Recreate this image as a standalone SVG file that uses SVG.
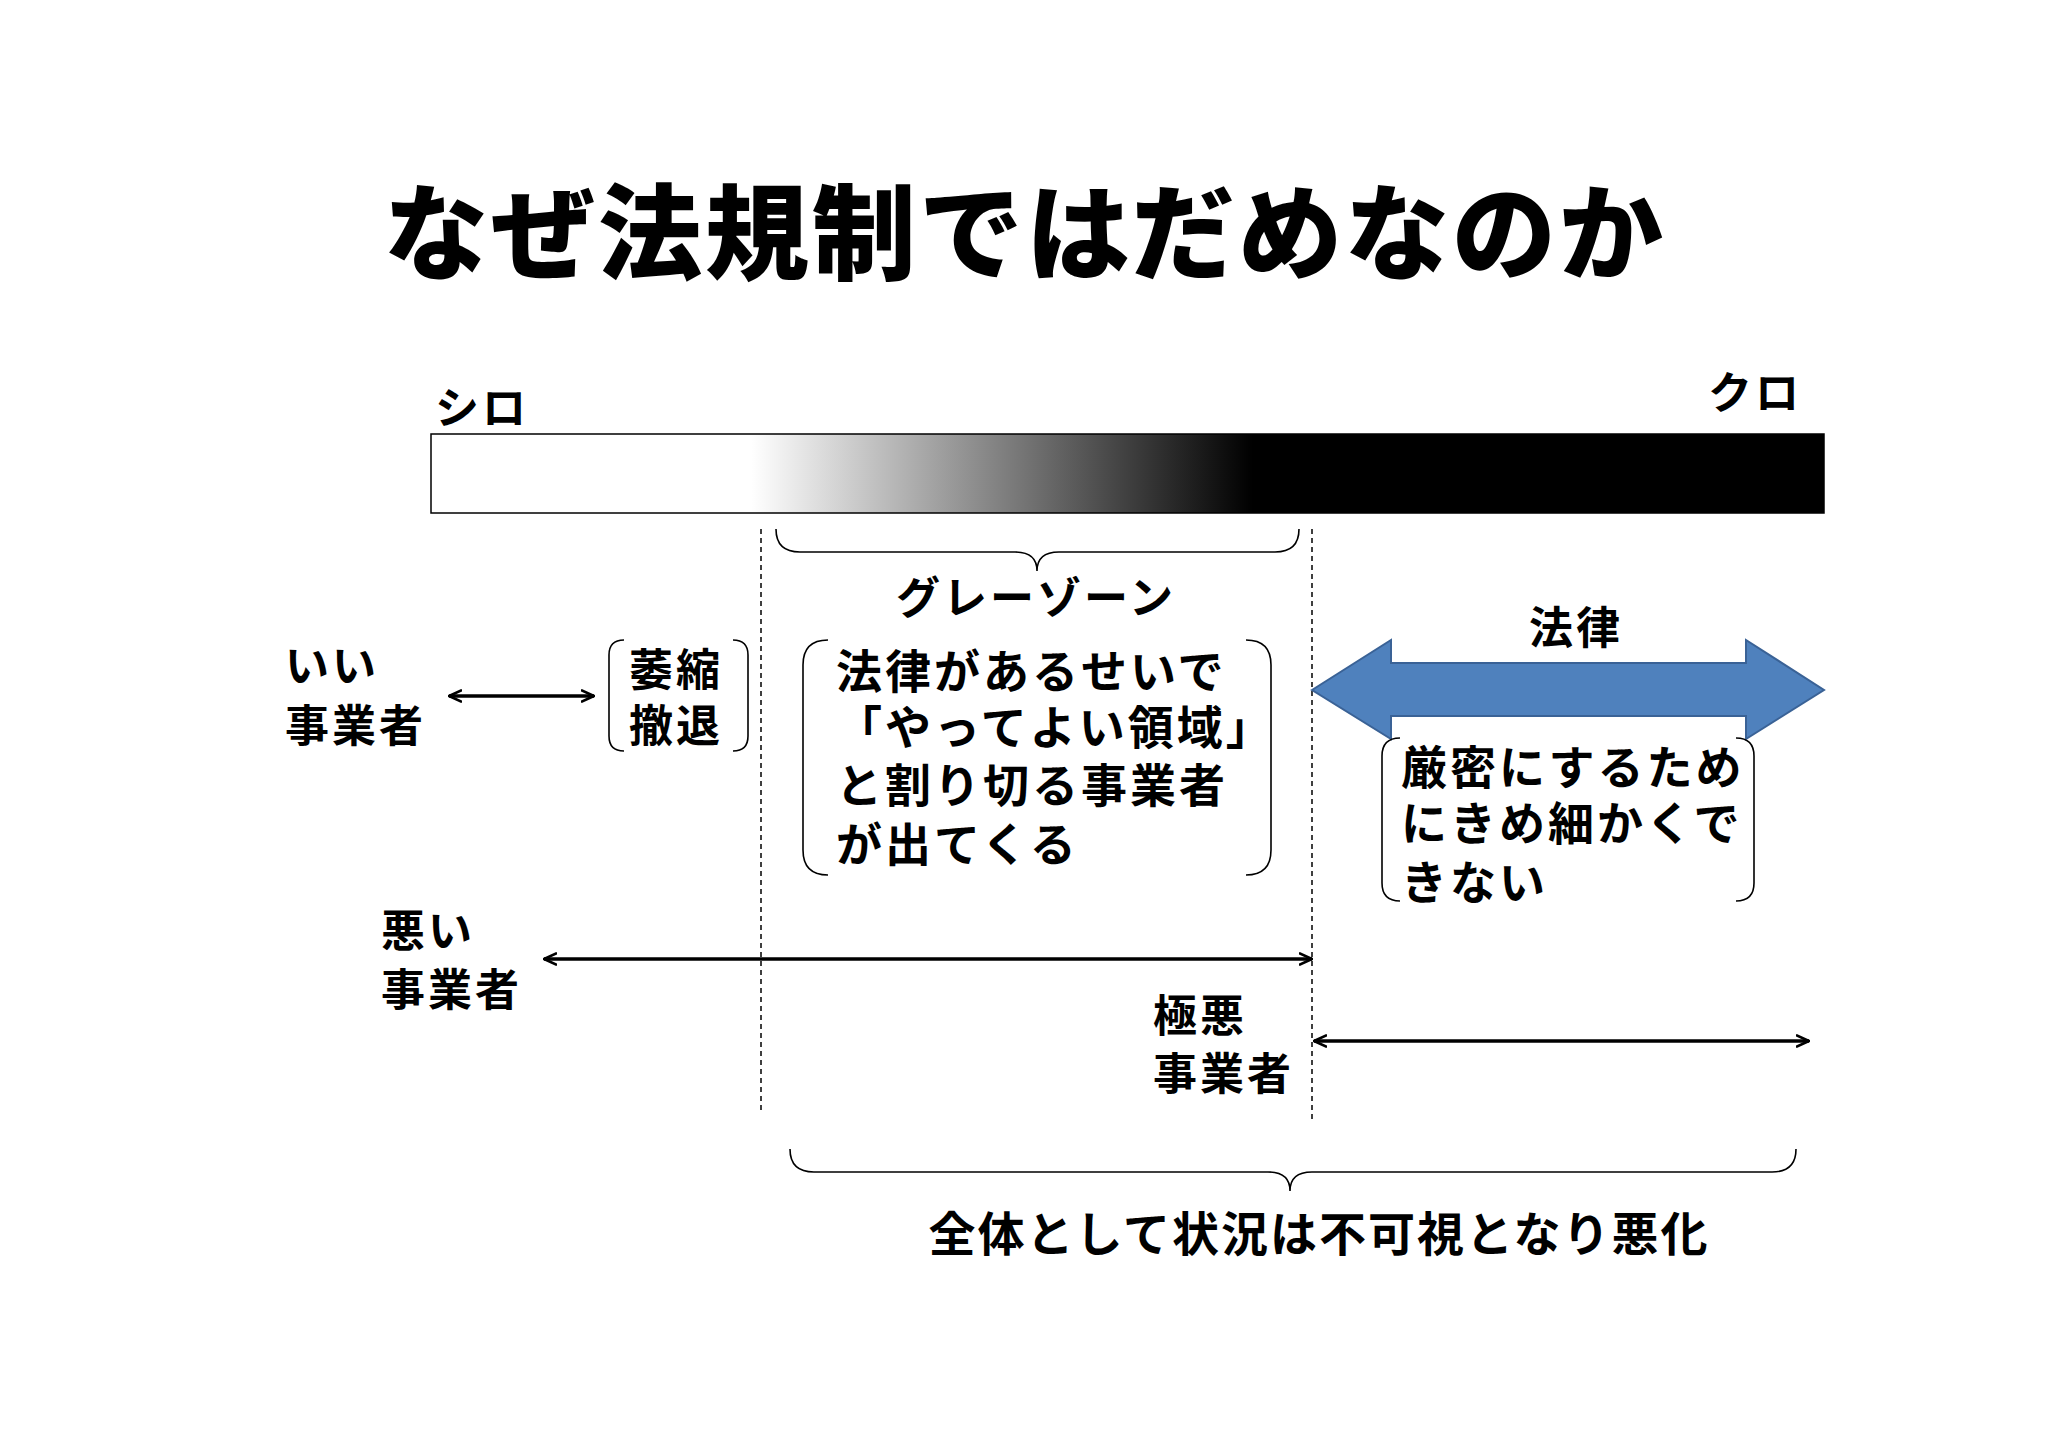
<svg xmlns="http://www.w3.org/2000/svg" width="2048" height="1448" viewBox="0 0 2048 1448">
<defs>
<linearGradient id="g" x1="0" x2="1" y1="0" y2="0">
<stop offset="0.23" stop-color="#fff"/><stop offset="0.59" stop-color="#000"/>
</linearGradient>
<marker id="ah" viewBox="0 0 14 14" refX="13" refY="7" markerWidth="14" markerHeight="14" markerUnits="userSpaceOnUse" orient="auto-start-reverse">
<path d="M0,1 L13,7 L0,13" fill="none" stroke="#000" stroke-width="2.5"/>
</marker>
</defs>
<style>
text{font-family:"Noto Sans CJK JP","Noto Sans",sans-serif;font-weight:700;fill:#000}
.t{font-size:44px;letter-spacing:3px}
.b{font-size:46px;letter-spacing:3px}
.ln{stroke:#000;stroke-width:3.5;fill:none}
.br{stroke:#000;stroke-width:1.6;fill:none}
.ds{stroke:#000;stroke-width:1.5;stroke-dasharray:5,4;fill:none}
</style>
<rect width="2048" height="1448" fill="#fff"/>
<text x="1025" y="272" font-size="104" text-anchor="middle" style="font-weight:900;letter-spacing:3px">なぜ法規制ではだめなのか</text>
<text x="435" y="424" class="t">シロ</text>
<text x="1802" y="409" class="t" text-anchor="end">クロ</text>
<rect x="431" y="434" width="1393" height="79" fill="url(#g)" stroke="#000" stroke-width="1.5"/>
<g id="connectors">
<line x1="761" y1="529" x2="761" y2="1110" class="ds"/>
<line x1="1312" y1="529" x2="1312" y2="1123" class="ds"/>
<path d="M776,529 Q776,552 800,552 L1015,552 Q1037,552 1037,571 Q1037,552 1059,552 L1275,552 Q1299,552 1299,529" class="br"/>
<path d="M790,1149 Q790,1172 814,1172 L1268,1172 Q1290,1172 1290,1191 Q1290,1172 1312,1172 L1772,1172 Q1796,1172 1796,1149" class="br"/>
<line x1="449" y1="696" x2="594" y2="696" class="ln" marker-start="url(#ah)" marker-end="url(#ah)"/>
<line x1="544" y1="959" x2="1312" y2="959" class="ln" marker-start="url(#ah)" marker-end="url(#ah)"/>
<line x1="1314" y1="1041" x2="1809" y2="1041" class="ln" marker-start="url(#ah)" marker-end="url(#ah)"/>
<path d="M1312,690 L1391,640 L1391,663 L1746,663 L1746,640 L1824,690 L1746,739 L1746,716 L1391,716 L1391,739 Z" fill="#4f81bd" stroke="#3a6296" stroke-width="2"/>
</g>
<g id="gray"><text x="1036" y="614" class="t" text-anchor="middle">グレーゾーン</text></g>
<g id="law"><text x="1576" y="644" class="t" text-anchor="middle">法律</text></g>
<g id="good"><text x="285" y="682" class="t">いい</text><text x="285" y="742" class="t">事業者</text></g>
<g id="shrink">
<path d="M624,640 Q609,640 609,655 L609,736 Q609,751 624,751 M733,640 Q748,640 748,655 L748,736 Q748,751 733,751" class="br"/>
<text x="629" y="686" class="t">萎縮</text><text x="629" y="742" class="t">撤退</text>
</g>
<g id="grayop">
<path d="M828,640 Q803,640 803,665 L803,850 Q803,875 828,875 M1246,640 Q1271,640 1271,665 L1271,850 Q1271,875 1246,875" class="br"/>
<text x="836" y="688" class="b">法律があるせいで</text>
<text x="836" y="744" class="b">「やってよい領域」</text>
<text x="836" y="802" class="b">と割り切る事業者</text>
<text x="836" y="861" class="b">が出てくる</text>
</g>
<g id="strict">
<path d="M1400,738 Q1382,738 1382,756 L1382,883 Q1382,901 1400,901 M1736,738 Q1754,738 1754,756 L1754,883 Q1754,901 1736,901" class="br"/>
<text x="1401" y="784" class="b">厳密にするため</text>
<text x="1401" y="840" class="b">にきめ細かくで</text>
<text x="1401" y="899" class="b">きない</text>
</g>
<g id="bad"><text x="381" y="947" class="t">悪い</text><text x="381" y="1006" class="t">事業者</text></g>
<g id="worst"><text x="1153" y="1032" class="t">極悪</text><text x="1153" y="1090" class="t">事業者</text></g>
<g id="summary"><text x="1319" y="1251" font-size="47" text-anchor="middle" style="letter-spacing:2px">全体として状況は不可視となり悪化</text></g>
</svg>
